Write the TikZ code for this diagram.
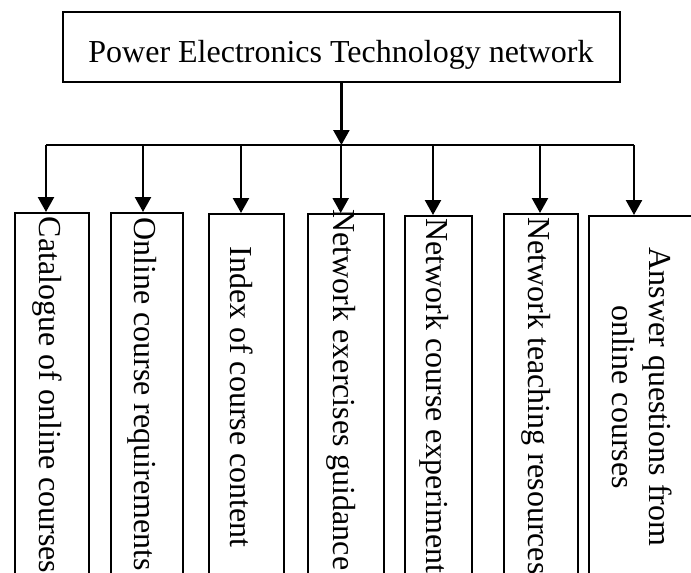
\documentclass[tikz,border=0pt]{standalone}
\usepackage{fontspec}
\setmainfont{Liberation Serif}
\usetikzlibrary{arrows.meta}
\tikzset{
  boxst/.style={draw, line width=2.2pt, inner sep=0pt, anchor=north west},
  lbl/.style={rotate=-90, inner sep=0pt, align=center, font=\fontsize{32}{37}\selectfont},
  arr/.style={line width=2.4pt, -{Triangle[width=16pt,length=15pt]}},
  barst/.style={line width=2.4pt}
}
\begin{document}
\begin{tikzpicture}[x=1pt,y=-1pt]
\useasboundingbox (0,0) rectangle (691,573);
\clip (0,0) rectangle (691,573);
% top box
\node[draw, line width=2.6pt, minimum width=557pt, minimum height=70pt, inner sep=0pt] (top) at (341.4,47) {};
\node[inner sep=0pt, font=\fontsize{32}{37}\selectfont] (toptext) at (341,54.5) {Power Electronics Technology network};
% bar
\coordinate (bl) at (46,145);
\coordinate (br) at (634,145);
\coordinate (a1) at (46,145);
\coordinate (a2) at (143,145);
\coordinate (a3) at (241,145);
\coordinate (a4) at (340.7,145);
\coordinate (a5) at (433,145);
\coordinate (a6) at (540,145);
\coordinate (a7) at (634,145);
\draw[barst] (bl) -- (br);
\draw[arr] (top.south) -- (top.south |- a4);
% child boxes
\node[boxst, minimum width=74pt, minimum height=380pt] (b1) at (14,212) {};
\node[boxst, minimum width=72pt, minimum height=380pt] (b2) at (110,212) {};
\node[boxst, minimum width=75pt, minimum height=380pt] (b3) at (208,213) {};
\node[boxst, minimum width=76pt, minimum height=380pt] (b4) at (307,213) {};
\node[boxst, minimum width=67pt, minimum height=380pt] (b5) at (404,215) {};
\node[boxst, minimum width=74pt, minimum height=380pt] (b6) at (503,213) {};
\node[boxst, minimum width=112pt, minimum height=380pt] (b7) at (588,215) {};
% arrows
\draw[arr] (a1) -- (a1 |- b1.north);
\draw[arr] (a2) -- (a2 |- b2.north);
\draw[arr] (a3) -- (a3 |- b3.north);
\draw[arr] (a4) -- (a4 |- b4.north);
\draw[arr] (a5) -- (a5 |- b5.north);
\draw[arr] (a6) -- (a6 |- b6.north);
\draw[arr] (a7) -- (a7 |- b7.north);
% labels
\node[lbl] (t1) at (47.5,395) {Catalogue of online courses};
\node[lbl] (t2) at (142,394) {Online course requirements};
\node[lbl] (t3) at (242,397) {Index of course content};
\node[lbl] (t4) at (341,390) {Network exercises guidance};
\node[lbl] (t5) at (434,396) {Network course experiment};
\node[lbl] (t6) at (536,396) {Network teaching resources};
\node[lbl] (t7) at (642,397) {Answer questions from\\online courses};
\end{tikzpicture}
\end{document}
